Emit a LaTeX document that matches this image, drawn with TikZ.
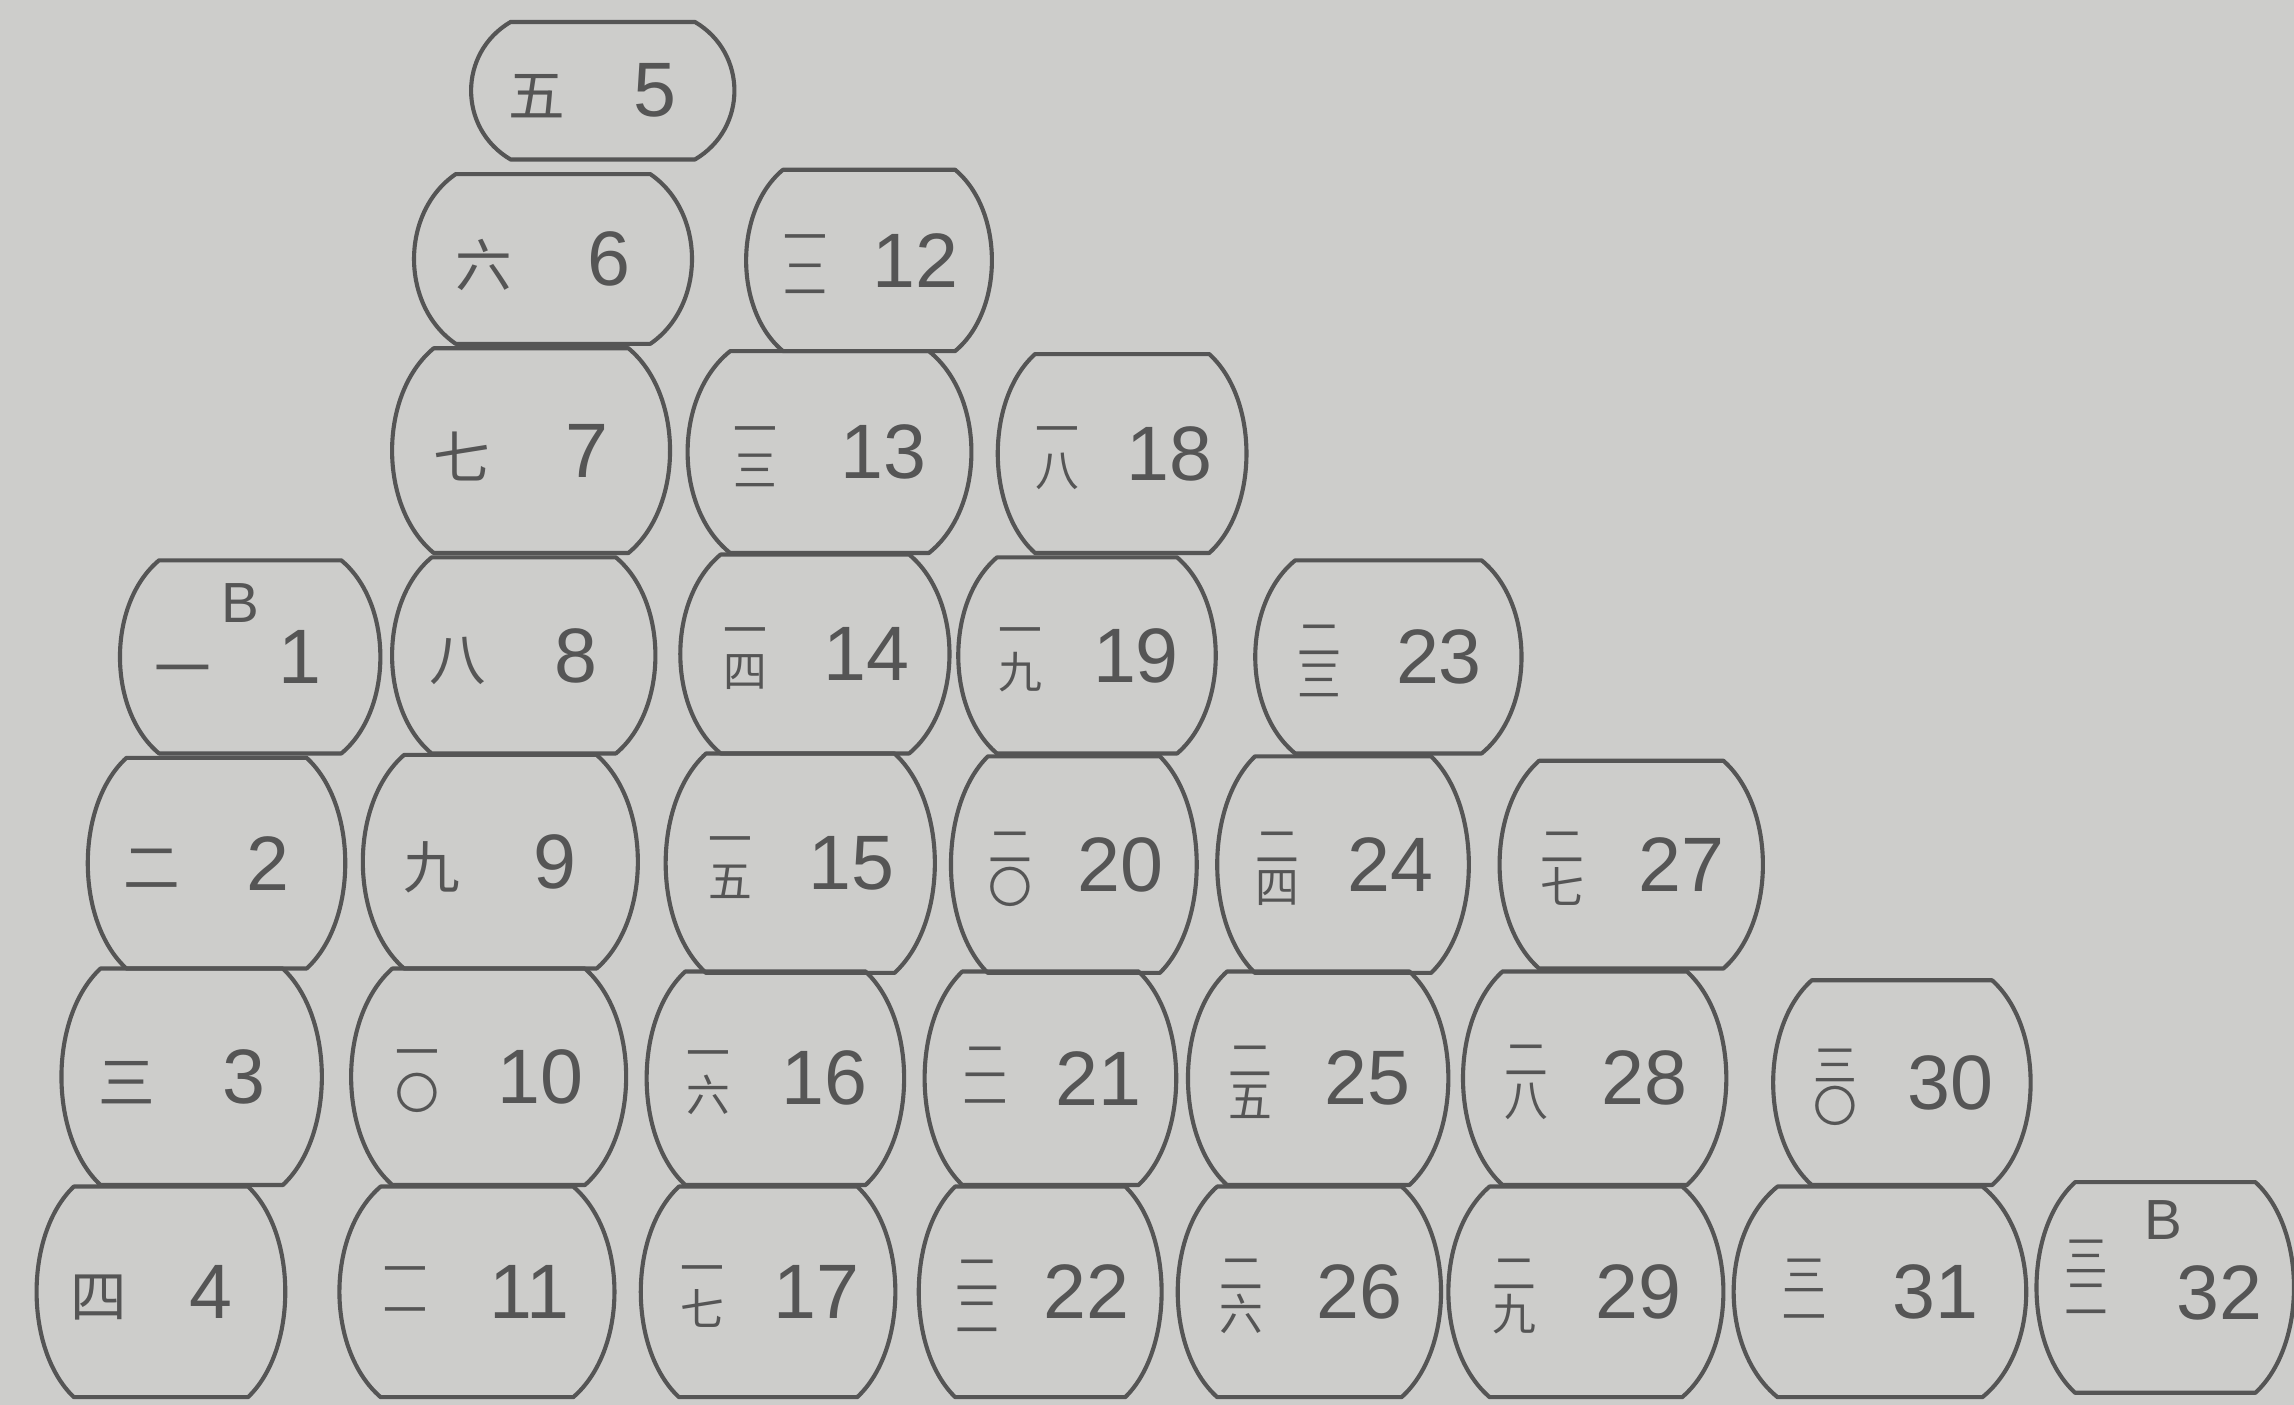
\documentclass[tikz,border=0pt]{standalone}
\usepackage{fontspec}
\setmainfont{Liberation Sans}
\newfontfamily\cjk{Noto Sans CJK SC}
\definecolor{paper}{HTML}{CDCDCB}
\definecolor{pencil}{HTML}{555555}
\tikzset{
    rim/.style={draw=pencil, line width=0.8pt, line join=round},
    numlab/.style={text=pencil, font=\fontsize{15}{15}\selectfont, inner sep=0pt},
    hanlab/.style={text=pencil, font=\cjk\fontsize{8.5}{8}\selectfont, align=center, inner sep=0pt},
    hanone/.style={text=pencil, font=\cjk\fontsize{11}{11}\selectfont, inner sep=0pt},
    marklab/.style={text=pencil, font=\fontsize{11}{11}\selectfont, inner sep=0pt},
}
% barrel outline: centre x, centre y, half width, half height
\newcommand\barrel[4]{%
    \draw[rim] ({#1-0.7*#3},{#2-#4}) -- ({#1+0.7*#3},{#2-#4})
        .. controls ({#1+1.1*#3},{#2-0.55*#4}) and ({#1+1.1*#3},{#2+0.55*#4}) .. ({#1+0.7*#3},{#2+#4})
        -- ({#1-0.7*#3},{#2+#4})
        .. controls ({#1-1.1*#3},{#2+0.55*#4}) and ({#1-1.1*#3},{#2-0.55*#4}) .. cycle;}

\begin{document}
\begin{tikzpicture}[x=0.01cm, y=-0.01cm]

\fill[paper] (0,0) rectangle (1568,960);
\useasboundingbox (0,0) rectangle (1568,960);

% ── Barrel 1 (marked B) ──
\barrel{171}{449}{89}{66}
\node[hanone] (h1) at (125,463) {一};
\node[marklab] (b1) at (164,412) {B};
\node[numlab] (n1) at (205,449) {1};

% ── Barrels 2-9 ──
\foreach \n/\x/\y/\r/\h/\z in {2/148/590/88/72/二, 3/131/736/89/74/三,
    4/110/883/85/72/四, 5/412/62/90/47/五, 6/378/177/95/58/六,
    7/363/308/95/70/七, 8/358/448/90/67/八, 9/342/589/94/73/九}{
    \barrel{\x}{\y}{\r}{\h}
    \node[hanone] (h\n) at ({\x-0.5*\r},{\y+4}) {\z};
    \node[numlab] (n\n) at ({\x+0.4*\r},\y) {\n};
}

% ── Barrels 10-31 ──
\foreach \n/\x/\y/\r/\h/\z in {10/334/736/94/74/{一\\〇}, 11/326/883/94/72/{一\\一},
    12/594/178/84/62/{一\\二}, 13/567/309/97/69/{一\\三}, 14/557/447/92/68/{一\\四},
    15/547/590/92/75/{一\\五}, 16/530/737/88/73/{一\\六}, 17/525/883/87/72/{一\\七},
    18/767/310/85/68/{一\\八}, 19/743/448/88/67/{一\\九}, 20/734/591/84/74/{二\\〇},
    21/718/737/86/73/{二\\一}, 22/711/883/83/72/{二\\二}, 23/949/449/91/66/{二\\三},
    24/918/591/86/74/{二\\四}, 25/901/737/89/73/{二\\五}, 26/895/883/90/72/{二\\六},
    27/1115/591/90/71/{二\\七}, 28/1090/737/90/73/{二\\八}, 29/1084/883/94/72/{二\\九},
    30/1300/740/88/70/{三\\〇}, 31/1285/883/100/72/{三\\一}}{
    \barrel{\x}{\y}{\r}{\h}
    \node[hanlab] (h\n) at ({\x-0.52*\r},{\y+3}) {\z};
    \node[numlab] (n\n) at ({\x+0.38*\r},\y) {\n};
}

% ── Barrel 32 (marked B) ──
\barrel{1480}{880}{88}{72}
\node[hanlab] (h32) at (1426,873) {三\\二};
\node[marklab] (b32) at (1479,834) {B};
\node[numlab] (n32) at (1517,884) {32};

\end{tikzpicture}
\end{document}
